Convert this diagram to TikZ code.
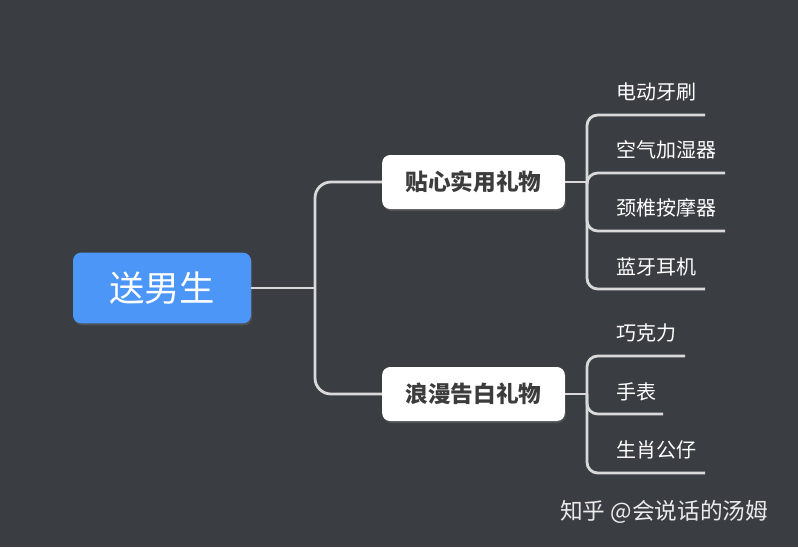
\documentclass[tikz,border=0pt]{standalone}
\usepackage{fontspec}
\usepackage{tikz}
\usetikzlibrary{positioning, shadows, calc}
\newfontfamily\cjk{Noto Sans CJK SC}
\definecolor{canvas}{HTML}{3A3D42}
\definecolor{rootblue}{HTML}{4C96F7}
\definecolor{wire}{HTML}{D9D9D9}
\definecolor{inkdark}{HTML}{3C3C3C}

\begin{document}
\begin{tikzpicture}[
      x=0.75pt, y=-0.75pt,
      rootbox/.style={rectangle, rounded corners=6pt, fill=rootblue,
                      minimum width=133.5pt, minimum height=53pt,
                      text=white, font=\cjk\fontsize{26.5}{30}\selectfont,
                      drop shadow={opacity=0.3, shadow xshift=0.8pt, shadow yshift=-1.5pt}},
      catbox/.style={rectangle, rounded corners=6pt, fill=white,
                     minimum width=137pt, minimum height=40.5pt,
                     text=inkdark, font=\cjk\bfseries\fontsize{17}{20}\selectfont,
                     drop shadow={opacity=0.3, shadow xshift=0.8pt, shadow yshift=-1.5pt}},
      leaf/.style={anchor=west, inner sep=0pt, text=white,
                   font=\cjk\fontsize{15}{18}\selectfont},
      conn/.style={draw=wire, line width=2.1pt, rounded corners=8pt}
    ]
      \useasboundingbox[fill=canvas] (0,0) rectangle (798,547);

      \node[rootbox] (root) at (162,288) {送男生};
      \node[catbox] (gift1) at (473.5,182) {贴心实用礼物};
      \node[catbox] (gift2) at (473.5,394) {浪漫告白礼物};

      % junctions on the trunk lines
      \coordinate (jr) at (315,288);
      \coordinate (j1) at (587,182);
      \coordinate (j2) at (587,394);

      \draw[conn] (root.east) -- (jr);
      \draw[conn, rounded corners=12pt] (jr) |- (gift1.west);
      \draw[conn, rounded corners=12pt] (jr) |- (gift2.west);
      \draw[conn] (gift1.east) -- (j1);
      \draw[conn] (gift2.east) -- (j2);

      % practical gifts
      \node[leaf] (a1) at (616,92) {电动牙刷};
      \node[leaf] (a2) at (616,150) {空气加湿器};
      \node[leaf] (a3) at (616,208) {颈椎按摩器};
      \node[leaf] (a4) at (616,267) {蓝牙耳机};
      \coordinate (a1e) at (705,115);
      \coordinate (a2e) at (725,173);
      \coordinate (a3e) at (725,231);
      \coordinate (a4e) at (705,289);
      \foreach \k in {1,...,4}
        \draw[conn] (j1) |- (a\k e);

      % romantic gifts
      \node[leaf] (b1) at (616,333) {巧克力};
      \node[leaf] (b2) at (616,392) {手表};
      \node[leaf] (b3) at (616,450) {生肖公仔};
      \coordinate (b1e) at (685,356);
      \coordinate (b2e) at (663,414);
      \coordinate (b3e) at (705,473);
      \foreach \k in {1,...,3}
        \draw[conn] (j2) |- (b\k e);

      \node[leaf, text=white!92!black, font=\cjk\fontsize{17}{20}\selectfont]
        (mark) at (560,512) {知乎 @会说话的汤姆};
    \end{tikzpicture}
\end{document}
